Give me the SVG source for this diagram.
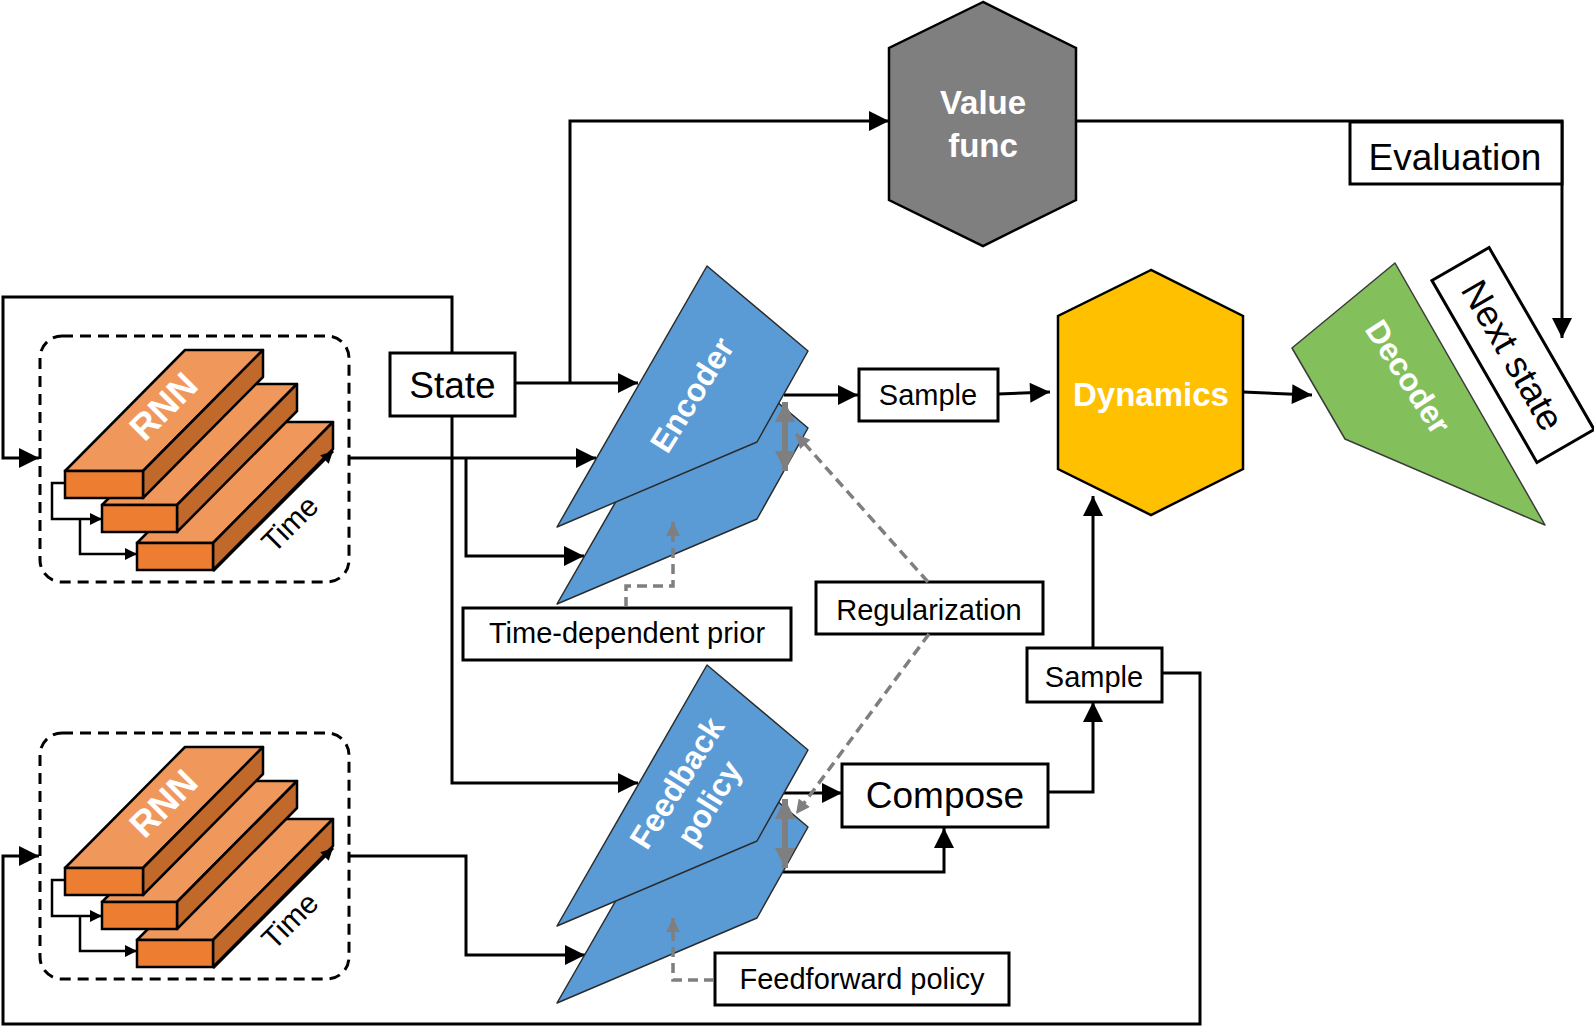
<svg xmlns="http://www.w3.org/2000/svg" width="1594" height="1028" viewBox="0 0 1594 1028">
<style>
  text { font-family: "Liberation Sans", Arial, sans-serif; }
  .box { fill: #fff; stroke: #000; stroke-width: 3; }
  .lbl { font-size: 29px; fill: #000; text-anchor: middle; }
  .big { font-size: 37px; fill: #000; text-anchor: middle; }
  .wb { font-weight: bold; fill: #fff; text-anchor: middle; }
  .conn { fill: none; stroke: #000; stroke-width: 3; marker-end: url(#ah); }
  .gdash { fill: none; stroke: #7f7f7f; stroke-width: 3.5; stroke-dasharray: 10 6; marker-end: url(#gah); }
  .gdbl { fill: none; stroke: #7f7f7f; stroke-width: 6; marker-start: url(#gdS); marker-end: url(#gdE); }
  .dash { fill: none; stroke: #000; stroke-width: 3; stroke-dasharray: 11 7; }
  .top { fill: #f0985c; stroke: #000; stroke-width: 2.5; stroke-linejoin: round; }
  .front { fill: #ed7d31; stroke: #000; stroke-width: 2.5; }
  .side { fill: #c1682b; stroke: #000; stroke-width: 2.5; stroke-linejoin: round; }
  .small { fill: none; stroke: #000; stroke-width: 2.5; marker-end: url(#sah); }
  .blue { fill: #5b9bd5; stroke: #2b2b2b; stroke-width: 1.5; stroke-linejoin: round; }
  .green { fill: #83c05b; stroke: #3a3a3a; stroke-width: 1.5; stroke-linejoin: round; }
  .hex { stroke: #000; stroke-width: 2.5; }
</style>
<defs>
  <marker id="ah" viewBox="0 0 20 20" refX="20" refY="10" markerWidth="22" markerHeight="20" markerUnits="userSpaceOnUse" orient="auto">
    <path d="M0,0 L20,10 L0,20 z" fill="#000"/>
  </marker>
  <marker id="sah" viewBox="0 0 20 20" refX="20" refY="10" markerWidth="13" markerHeight="12" markerUnits="userSpaceOnUse" orient="auto">
    <path d="M0,0 L20,10 L0,20 z" fill="#000"/>
  </marker>
  <marker id="gah" viewBox="0 0 20 20" refX="20" refY="10" markerWidth="15" markerHeight="14" markerUnits="userSpaceOnUse" orient="auto">
    <path d="M0,0 L20,10 L0,20 z" fill="#7f7f7f"/>
  </marker>
  <marker id="gdE" viewBox="0 0 20 20" refX="20" refY="10" markerWidth="20" markerHeight="20" markerUnits="userSpaceOnUse" orient="auto">
    <path d="M0,0 L20,10 L0,20 z" fill="#7f7f7f"/>
  </marker>
  <marker id="gdS" viewBox="0 0 20 20" refX="0" refY="10" markerWidth="20" markerHeight="20" markerUnits="userSpaceOnUse" orient="auto">
    <path d="M20,0 L0,10 L20,20 z" fill="#7f7f7f"/>
  </marker>
  <g id="rnnblock">
    <rect class="dash" x="40" y="336" width="309" height="246" rx="22"/>
    <polygon class="top" points="137,543 257,422 333,422 213,543"/>
    <polygon class="side" points="213,543 333,422 333,449 213,570"/>
    <rect class="front" x="137" y="543" width="76" height="27"/>
    <polygon class="top" points="102,505 222,384 297,384 177,505"/>
    <polygon class="side" points="177,505 297,384 297,411 177,532"/>
    <rect class="front" x="102" y="505" width="75" height="27"/>
    <polygon class="top" points="65,471 185,350 263,350 143,471"/>
    <polygon class="side" points="143,471 263,350 263,377 143,498"/>
    <rect class="front" x="65" y="471" width="78" height="27"/>
    <path class="small" d="M65,483 H52 V519 H102"/>
    <path class="small" d="M80,519 V554 H137"/>
    <path class="small" d="M213,571 L333,451" style="stroke-width:3"/>
    <text class="wb" font-size="36" transform="translate(163,406) rotate(-45)" y="13">RNN</text>
    <text font-size="30" text-anchor="middle" transform="translate(290,524) rotate(-45)" y="10">Time</text>
  </g>
</defs>

<g id="connectors">
  <path class="conn" d="M452,353 V297 H3 V458 H39"/>
  <path class="conn" d="M515,383 H638"/>
  <path class="conn" d="M570,383 V121 H889"/>
  <path class="conn" d="M1076,121 H1562 V338"/>
  <path class="conn" d="M452,416 V783 H638"/>
  <path class="conn" d="M349,458 H596"/>
  <path class="conn" d="M466,458 V556 H584"/>
  <path class="conn" d="M784,395 H858"/>
  <path class="conn" d="M998,394 L1050,392"/>
  <path class="conn" d="M1243,392 L1312,395"/>
  <path class="conn" d="M784,793 H842"/>
  <path class="conn" d="M783,872 H944 V828"/>
  <path class="conn" d="M1048,792 H1093 V702"/>
  <path class="conn" d="M1093,648 V496"/>
  <path class="conn" d="M1162,673 H1200 V1024 H3 V856 H39"/>
  <path class="conn" d="M349,856 H466 V955 H585"/>
</g>

<g id="rnn-top"><use href="#rnnblock"/></g>
<g id="rnn-bottom"><use href="#rnnblock" transform="translate(0,397)"/></g>

<g id="state">
  <rect class="box" x="390" y="353" width="125" height="63"/>
  <text class="big" x="452.5" y="398">State</text>
</g>

<g id="value-func">
  <polygon class="hex" fill="#7f7f7f" points="983,2 889,48 889,200 983,246 1076,200 1076,48"/>
  <text class="wb" font-size="33" x="983" y="114">Value</text>
  <text class="wb" font-size="33" x="983" y="157">func</text>
</g>

<g id="evaluation">
  <rect class="box" x="1350" y="122" width="212" height="62"/>
  <text class="big" x="1455" y="170">Evaluation</text>
</g>

<g id="encoder">
  <polygon class="blue" points="707,343 808,428 757,519 557,604"/>
  <polygon class="blue" points="707,266 808,351 757,442 557,527"/>
  <text class="wb" font-size="32" transform="translate(692,395) rotate(-58)" y="11">Encoder</text>
</g>

<g id="feedback-policy">
  <polygon class="blue" points="707,742 808,827 757,918 557,1003"/>
  <polygon class="blue" points="707,665 808,750 757,841 557,926"/>
  <text class="wb" font-size="32" transform="translate(693,793) rotate(-58)"><tspan x="0" y="-8">Feedback</tspan><tspan x="0" y="30">policy</tspan></text>
</g>

<g id="sample1">
  <rect class="box" x="859" y="369" width="139" height="52"/>
  <text class="lbl" x="928" y="405">Sample</text>
</g>

<g id="dynamics">
  <polygon class="hex" fill="#ffc000" points="1151,270 1058,316 1058,469 1151,515 1243,469 1243,316"/>
  <text class="wb" font-size="33" x="1151" y="406">Dynamics</text>
</g>

<g id="decoder">
  <polygon class="green" points="1395,263 1292,348 1345,439 1545,525"/>
  <text class="wb" font-size="32" transform="translate(1408,377) rotate(57)" y="11">Decoder</text>
</g>

<g id="next-state">
  <g transform="translate(1513,355) rotate(60)">
    <rect class="box" x="-105" y="-33" width="210" height="66"/>
    <text class="big" x="0" y="13">Next state</text>
  </g>
</g>

<g id="time-prior">
  <rect class="box" x="463" y="608" width="328" height="52"/>
  <text class="lbl" x="627" y="643">Time-dependent prior</text>
</g>

<g id="regularization">
  <rect class="box" x="816" y="582" width="227" height="52"/>
  <text class="lbl" x="929" y="620">Regularization</text>
</g>

<g id="sample2">
  <rect class="box" x="1027" y="648" width="135" height="54"/>
  <text class="lbl" x="1094" y="687">Sample</text>
</g>

<g id="compose">
  <rect class="box" x="842" y="764" width="206" height="63"/>
  <text class="big" x="945" y="808">Compose</text>
</g>

<g id="feedforward">
  <rect class="box" x="715" y="953" width="294" height="52"/>
  <text class="lbl" x="862" y="989">Feedforward policy</text>
</g>

<g id="connectors-gray">
  <path class="gdash" d="M626,607 V586 H673 V522"/>
  <path class="gdash" d="M714,980 H673 V918"/>
  <path class="gdash" d="M928,582 L796,434"/>
  <path class="gdash" d="M929,634 L796,814"/>
  <path class="gdbl" d="M785,402 V471"/>
  <path class="gdbl" d="M785,799 V868"/>
</g>
</svg>
